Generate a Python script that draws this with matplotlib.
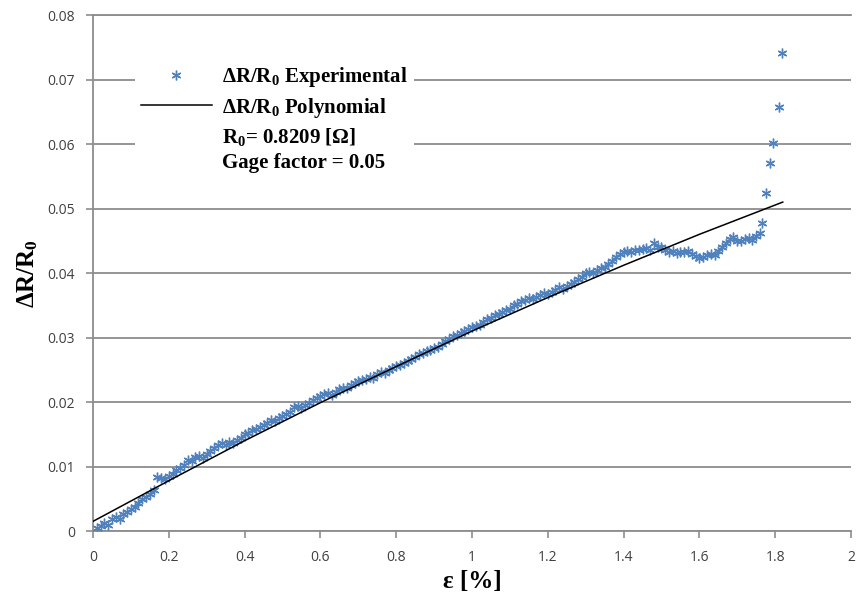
import numpy as np
import matplotlib
matplotlib.use("Agg")
import matplotlib.pyplot as plt
from matplotlib.lines import Line2D

# Experimental data: strain [%] vs dR/R0
strain = [
    0.01, 0.02, 0.03, 0.04, 0.05, 0.06, 0.07, 0.08, 0.09, 0.10,
    0.11, 0.12, 0.13, 0.14, 0.15, 0.16, 0.17, 0.18, 0.19, 0.20,
    0.21, 0.22, 0.23, 0.24, 0.25, 0.26, 0.27, 0.28, 0.29, 0.30,
    0.31, 0.32, 0.33, 0.34, 0.35, 0.36, 0.37, 0.38, 0.39, 0.40,
    0.41, 0.42, 0.43, 0.44, 0.45, 0.46, 0.47, 0.48, 0.49, 0.50,
    0.51, 0.52, 0.53, 0.54, 0.55, 0.56, 0.57, 0.58, 0.59, 0.60,
    0.61, 0.62, 0.63, 0.64, 0.65, 0.66, 0.67, 0.68, 0.69, 0.70,
    0.71, 0.72, 0.73, 0.74, 0.75, 0.76, 0.77, 0.78, 0.79, 0.80,
    0.81, 0.82, 0.83, 0.84, 0.85, 0.86, 0.87, 0.88, 0.89, 0.90,
    0.91, 0.92, 0.93, 0.94, 0.95, 0.96, 0.97, 0.98, 0.99, 1.00,
    1.01, 1.02, 1.03, 1.04, 1.05, 1.06, 1.07, 1.08, 1.09, 1.10,
    1.11, 1.12, 1.13, 1.14, 1.15, 1.16, 1.17, 1.18, 1.19, 1.20,
    1.21, 1.22, 1.23, 1.24, 1.25, 1.26, 1.27, 1.28, 1.29, 1.30,
    1.31, 1.32, 1.33, 1.34, 1.35, 1.36, 1.37, 1.38, 1.39, 1.40,
    1.41, 1.42, 1.43, 1.44, 1.45, 1.46, 1.47, 1.48, 1.49, 1.50,
    1.51, 1.52, 1.53, 1.54, 1.55, 1.56, 1.57, 1.58, 1.59, 1.60,
    1.61, 1.62, 1.63, 1.64, 1.65, 1.66, 1.67, 1.68, 1.69, 1.70,
    1.71, 1.72, 1.73, 1.74, 1.75, 1.76,
    1.765, 1.776, 1.786, 1.794, 1.810, 1.818,
]
dr_exp = [
    0.0005, 0.0008, 0.0012, 0.0010, 0.0018, 0.0021, 0.0019, 0.0026, 0.0030, 0.0034,
    0.0037, 0.0044, 0.0050, 0.0053, 0.0058, 0.0063, 0.0084, 0.0082, 0.0080, 0.0086,
    0.0088, 0.0094, 0.0098, 0.0103, 0.0110, 0.0108, 0.0114, 0.0117, 0.0113, 0.0120,
    0.0124, 0.0128, 0.0134, 0.0136, 0.0133, 0.0138, 0.0137, 0.0141, 0.0145, 0.0150,
    0.0152, 0.0156, 0.0158, 0.0161, 0.0164, 0.0168, 0.0172, 0.0170, 0.0175, 0.0178,
    0.0181, 0.0184, 0.0192, 0.0194, 0.0191, 0.0196, 0.0199, 0.0203, 0.0207, 0.0210,
    0.0212, 0.0214, 0.0211, 0.0216, 0.0220, 0.0222, 0.0221, 0.0226, 0.0229, 0.0232,
    0.0234, 0.0236, 0.0239, 0.0237, 0.0244, 0.0247, 0.0245, 0.0249, 0.0252, 0.0256,
    0.0258, 0.0260, 0.0263, 0.0266, 0.0270, 0.0274, 0.0276, 0.0279, 0.0281, 0.0283,
    0.0285, 0.0290, 0.0294, 0.0297, 0.0302, 0.0304, 0.0307, 0.0310, 0.0313, 0.0316,
    0.0318, 0.0320, 0.0324, 0.0328, 0.0331, 0.0335, 0.0337, 0.0339, 0.0343, 0.0345,
    0.0350, 0.0352, 0.0356, 0.0358, 0.0361, 0.0359, 0.0363, 0.0366, 0.0369, 0.0368,
    0.0371, 0.0374, 0.0378, 0.0376, 0.0380, 0.0383, 0.0386, 0.0390, 0.0394, 0.0400,
    0.0402, 0.0400, 0.0405, 0.0408, 0.0410, 0.0414, 0.0418, 0.0425, 0.0430, 0.0432,
    0.0434, 0.0433, 0.0436, 0.0435, 0.0437, 0.0439, 0.0436, 0.0446, 0.0441, 0.0440,
    0.0436, 0.0432, 0.0434, 0.0431, 0.0433, 0.0432, 0.0434, 0.0430, 0.0426, 0.0424,
    0.0425, 0.0428, 0.0430, 0.0428, 0.0434, 0.0441, 0.0447, 0.0452, 0.0456, 0.0450,
    0.0449, 0.0452, 0.0455, 0.0451, 0.0458, 0.0462,
    0.0478, 0.0524, 0.0570, 0.0601, 0.0657, 0.0741,
]

# Polynomial fit curve
poly_x = [0.0, 0.2, 0.4, 0.6, 0.8, 1.0, 1.2, 1.4, 1.6, 1.82]
poly_y = [0.0015, 0.0078, 0.0140, 0.0199, 0.0255, 0.0310, 0.0362, 0.0412, 0.0460, 0.0510]

x_ticks = [0, 0.2, 0.4, 0.6, 0.8, 1, 1.2, 1.4, 1.6, 1.8, 2]
y_ticks = [0, 0.01, 0.02, 0.03, 0.04, 0.05, 0.06, 0.07, 0.08]

plt.rcParams['mathtext.default'] = 'regular'

blue = '#4F81BD'
grid_gray = '#8c8c8c'
serif = 'Liberation Serif'

fig = plt.figure(figsize=(8.58, 6.02), dpi=100)
ax = fig.add_axes([0.1084, 0.1179, 0.8834, 0.8571])

ax.plot(strain, dr_exp, ls='none', marker=(6, 2, 0), ms=7, mew=1.0,
        color=blue, zorder=3)
ax.plot(poly_x, poly_y, color='black', lw=1.1, zorder=4)

ax.set_xlim(0, 2)
ax.set_ylim(0, 0.08)
ax.set_xticks(x_ticks)
ax.set_yticks(y_ticks)
ax.set_xticklabels(['0', '0.2', '0.4', '0.6', '0.8', '1', '1.2', '1.4', '1.6', '1.8', '2'])
ax.set_yticklabels(['0', '0.01', '0.02', '0.03', '0.04', '0.05', '0.06', '0.07', '0.08'])

ax.yaxis.grid(True, color=grid_gray, lw=1.3)
ax.set_axisbelow(True)
for side in ['left', 'bottom', 'top']:
    ax.spines[side].set_color(grid_gray)
    ax.spines[side].set_linewidth(1.3)
ax.spines['right'].set_visible(False)
ax.tick_params(axis='both', direction='out', length=5, width=1.2,
               color=grid_gray, labelcolor='#404040', labelsize=10)
ax.tick_params(axis='y', pad=8)
ax.tick_params(axis='x', pad=9)
for lbl in ax.get_xticklabels() + ax.get_yticklabels():
    lbl.set_fontfamily('Open Sans')

ax.set_xlabel('ε [%]', fontsize=18, fontweight='bold', family=serif, labelpad=3)
ax.set_ylabel('ΔR/R$_0$', fontsize=18, fontweight='bold', family=serif, labelpad=5)

handles = [
    Line2D([], [], ls='none', marker=(6, 2, 0), ms=7, mew=1.0, color=blue),
    Line2D([], [], color='black', lw=1.1),
    Line2D([], [], ls='none'),
]
labels = [
    'ΔR/R$_0$ Experimental',
    'ΔR/R$_0$ Polynomial',
    'R$_0$= 0.8209 [Ω]\nGage factor = 0.05',
]
leg = ax.legend(handles, labels, loc='upper left', bbox_to_anchor=(0.041, 0.935),
                prop={'family': serif, 'weight': 'bold', 'size': 15},
                frameon=True, facecolor='white', edgecolor='none', framealpha=1,
                fancybox=False, handlelength=3.4, handletextpad=0.5,
                labelspacing=0.3, borderpad=0.3)
leg.get_texts()[2].set_linespacing(1.35)
leg.set_zorder(5)

fig.savefig('out.png', dpi=100)
